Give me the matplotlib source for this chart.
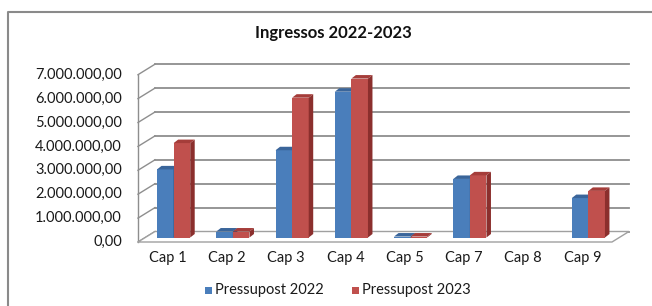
import numpy as np
import matplotlib.pyplot as plt
from matplotlib.patches import Polygon

categories = ["Cap 1", "Cap 2", "Cap 3", "Cap 4", "Cap 5", "Cap 7", "Cap 8", "Cap 9"]
pres_2022 = [2850000, 250000, 3650000, 6100000, 40000, 2450000, 0, 1650000]
pres_2023 = [3950000, 250000, 5850000, 6650000, 40000, 2600000, 0, 1950000]
series_names = ["Pressupost 2022", "Pressupost 2023"]
y_ticks = np.arange(0, 8000000, 1000000)
y_labels = ["0,00", "1.000.000,00", "2.000.000,00", "3.000.000,00",
            "4.000.000,00", "5.000.000,00", "6.000.000,00", "7.000.000,00"]

# colours (front, side, top)
blue = ("#4a7ebb", "#2c4d75", "#3a659a")
red = ("#c0504d", "#8b2f2d", "#a53d3a")
grid_col = "#8e8e8e"

W, H = 652, 306
fig = plt.figure(figsize=(W / 100, H / 100), dpi=100)
ax = fig.add_axes([0, 0, 1, 1])
ax.axis("off")

# pixel layout of the front plane: x = 138 + (cat + .5) * 59.25, y = 242 - v/1e6 * 23.9
px_cat, px_m = 59.25, 23.9
ax.set_xlim(-0.5 - 138 / px_cat, -0.5 + (W - 138) / px_cat)
ax.set_ylim((242 - H) / px_m * 1e6, 242 / px_m * 1e6)

# depth of the box (walls) and of the bars
dx, dy = 17 / px_cat, 10.5 / px_m * 1e6
bx, by = 6 / px_cat, 4.5 / px_m * 1e6       # bar front face offset
bdx, bdy = 4.5 / px_cat, 3.5 / px_m * 1e6  # bar depth
n = len(categories)
x0, x1 = -0.5, n - 0.5

# back wall gridlines + side wall diagonals
for v in y_ticks:
    ax.plot([x0 + dx, x1 + dx], [v + dy, v + dy], color=grid_col, lw=1.3, zorder=1)
    ax.plot([x0, x0 + dx], [v, v + dy], color=grid_col, lw=1.0, zorder=1)
ax.plot([x0, x0], [0, y_ticks[-1]], color=grid_col, lw=1.0, zorder=1)
# floor
floor = Polygon([(x0, 0), (x1, 0), (x1 + dx, dy), (x0 + dx, dy)], closed=True,
                facecolor="white", edgecolor="#a0a0a0", lw=1.0, zorder=1)
ax.add_patch(floor)

# bars
bw = 0.28
x = np.arange(n)
for i in range(n):
    for vals, col, shift in ((pres_2022, blue, -bw), (pres_2023, red, 0)):
        v = vals[i]
        if v <= 0:
            continue
        z = 3 + i * 2 + (shift == 0)
        xl = x[i] + bx + shift
        ax.bar(xl, v, width=bw, bottom=by, align="edge", color=col[0], lw=0, zorder=z)
        top = Polygon([(xl, by + v), (xl + bw, by + v), (xl + bw + bdx, by + v + bdy), (xl + bdx, by + v + bdy)],
                      closed=True, facecolor=col[2], lw=0, zorder=z)
        side = Polygon([(xl + bw, by), (xl + bw + bdx, by + bdy), (xl + bw + bdx, by + v + bdy), (xl + bw, by + v)],
                       closed=True, facecolor=col[1], lw=0, zorder=z)
        ax.add_patch(top)
        ax.add_patch(side)

font = "Lato"
txt_col = "#1a1a1a"
# y tick labels
for v, lab in zip(y_ticks, y_labels):
    ax.text(x0 - 16 / px_cat, v, lab, ha="right", va="center", fontsize=10.5, family=font, color=txt_col)
# category labels
for xi, lab in zip(x, categories):
    ax.text(xi, -16 / px_m * 1e6, lab, ha="center", va="center", fontsize=10.5, family=font, color=txt_col)

# title
fig.text(333 / W, 1 - 33 / H, "Ingressos 2022-2023", ha="center", va="center",
         fontsize=12, fontweight="bold", family=font, color="#111111")

# legend
for (px, name, col) in ((205, series_names[0], blue[0]), (352, series_names[1], red[0])):
    fig.patches.append(plt.Rectangle((px / W, 1 - 294 / H), 7 / W, 7 / H, transform=fig.transFigure,
                                     facecolor=col, lw=0, figure=fig))
    fig.text((px + 10) / W, 1 - 290 / H, name, ha="left", va="center", fontsize=10.5, family=font, color=txt_col)

# chart frame (only left and top edges visible)
fig.add_artist(plt.Line2D([8 / W, 8 / W, 1], [0, 1 - 12 / H, 1 - 12 / H], transform=fig.transFigure,
                          color="#8a8a8a", lw=1.5))

fig.savefig("out.png", dpi=100)
